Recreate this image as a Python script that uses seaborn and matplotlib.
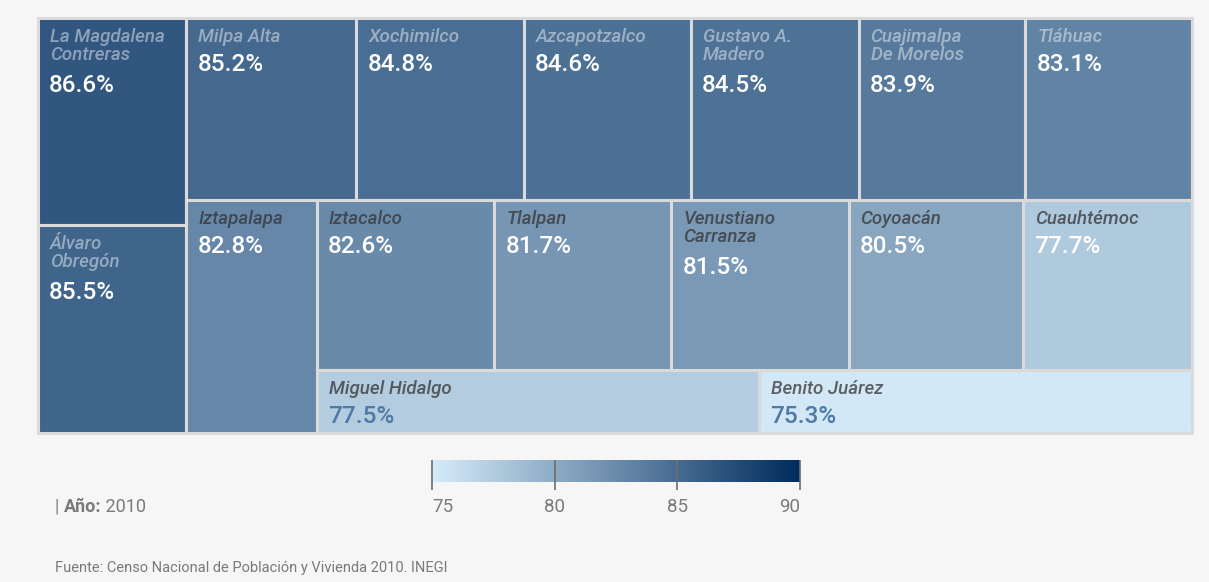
import numpy as np
import matplotlib
matplotlib.use("Agg")
import matplotlib.pyplot as plt
from matplotlib.patches import Rectangle
import seaborn as sns

# data: boroughs of Mexico City, 2010 (sorted as in the chart)
names = [
    "La Magdalena\nContreras", "Álvaro\nObregón", "Milpa Alta", "Xochimilco",
    "Azcapotzalco", "Gustavo A.\nMadero", "Cuajimalpa\nDe Morelos", "Tláhuac",
    "Iztapalapa", "Iztacalco", "Tlalpan", "Venustiano\nCarranza", "Coyoacán",
    "Cuauhtémoc", "Miguel Hidalgo", "Benito Juárez",
]
values = [86.6, 85.5, 85.2, 84.8, 84.6, 84.5, 83.9, 83.1,
          82.8, 82.6, 81.7, 81.5, 80.5, 77.7, 77.5, 75.3]
# tile areas (relative)
sizes = [30.4, 30.6, 30.6, 30.2, 30.0, 30.2, 30.0, 30.0,
         30.1, 29.9, 29.8, 29.8, 29.4, 28.4, 27.8, 27.2]
cbar_ticks = [75, 80, 85, 90]
year = "2010"
source = "Fuente: Censo Nacional de Población y Vivienda 2010. INEGI"

W, H = 1209, 582
VMIN, VMAX = 75, 90

sns.set_theme(style="white")
plt.rcParams['font.family'] = ['Roboto', 'DejaVu Sans']

cmap = sns.blend_palette(["#d6ecfa", "#002b5c"], as_cmap=True)


def worst(row, side):
    t = sum(row) / side
    return max(max(t / (a / t), (a / t) / t) for a in row)


def squarify_alt(weights, x, y, w, h):
    """squarified treemap, strips alternate between columns and rows"""
    scale = w * h / sum(weights)
    areas = [a * scale for a in weights]
    rects = []
    vertical = True
    i = 0
    while i < len(areas):
        side = h if vertical else w
        row = [areas[i]]
        best = worst(row, side)
        j = i + 1
        while j < len(areas):
            cand = row + [areas[j]]
            r = worst(cand, side)
            if r > best:
                break
            row, best = cand, r
            j += 1
        t = sum(row) / side
        if vertical:
            yy = y
            for a in row:
                rects.append((x, yy, t, a / t))
                yy += a / t
            x += t
            w -= t
        else:
            xx = x
            for a in row:
                rects.append((xx, y, a / t, t))
                xx += a / t
            y += t
            h -= t
        vertical = not vertical
        i = j
    return rects


fig = plt.figure(figsize=(W / 100, H / 100), dpi=100)
fig.patch.set_facecolor("#f6f6f6")
ax = fig.add_axes([0, 0, 1, 1])
ax.set_xlim(0, W)
ax.set_ylim(H, 0)
ax.axis("off")

rects = squarify_alt(sizes, 38, 18, 1154, 415)
for (x, y, w, h), name, v in zip(rects, names, values):
    col = cmap((v - VMIN) / (VMAX - VMIN))
    ax.add_patch(Rectangle((x, y), w, h, facecolor=col, edgecolor="#dadada", lw=2.2))
    dark = v > 83.0
    ax.text(x + 12, y + 10, name, ha="left", va="top", fontsize=13.5,
            style="italic", fontweight="medium", linespacing=1.0,
            color="white" if dark else "#333333", alpha=0.45 if dark else 0.75)
    nl = name.count("\n") + 1
    vcol = "white" if v > 77.6 else "#4f7aa6"
    ax.text(x + 11, y + 14 + nl * 21, f"{v}%", ha="left", va="top",
            fontsize=17.5, fontweight="medium", color=vcol)

# colour scale
cx0, cx1, cy0, cy1 = 432, 800, 460, 482
grad = np.linspace(VMIN, VMAX, 256).reshape(1, -1)
ax.imshow(grad, cmap=cmap, vmin=VMIN, vmax=VMAX, aspect="auto",
          extent=(cx0, cx1, cy1, cy0), zorder=2)
for k, tv in enumerate(cbar_ticks):
    tx = cx0 + (tv - VMIN) / (VMAX - VMIN) * (cx1 - cx0)
    ax.vlines(tx, cy0, cy1 + 8, color="#6e6e6e", lw=1.2, zorder=3)
    ha = "left" if k == 0 else ("right" if k == len(cbar_ticks) - 1 else "center")
    ax.text(tx, 507, str(tv), ha=ha, va="center", fontsize=13.5, color="#7a7a7a")
ax.set_xlim(0, W)
ax.set_ylim(H, 0)

t1 = ax.text(55, 507, "| ", ha="left", va="center", fontsize=13, color="#7a7a7a")
t2 = ax.annotate("Año:", xy=(1, 0), xycoords=t1, va="bottom", fontsize=13,
                 fontweight="bold", color="#7a7a7a")
ax.annotate(" " + year, xy=(1, 0), xycoords=t2, va="bottom", fontsize=13,
            color="#7a7a7a")

ax.text(55, 568, source, ha="left", va="center", fontsize=10.5, color="#7a7a7a")

fig.savefig("out.png", dpi=100, facecolor=fig.get_facecolor())
